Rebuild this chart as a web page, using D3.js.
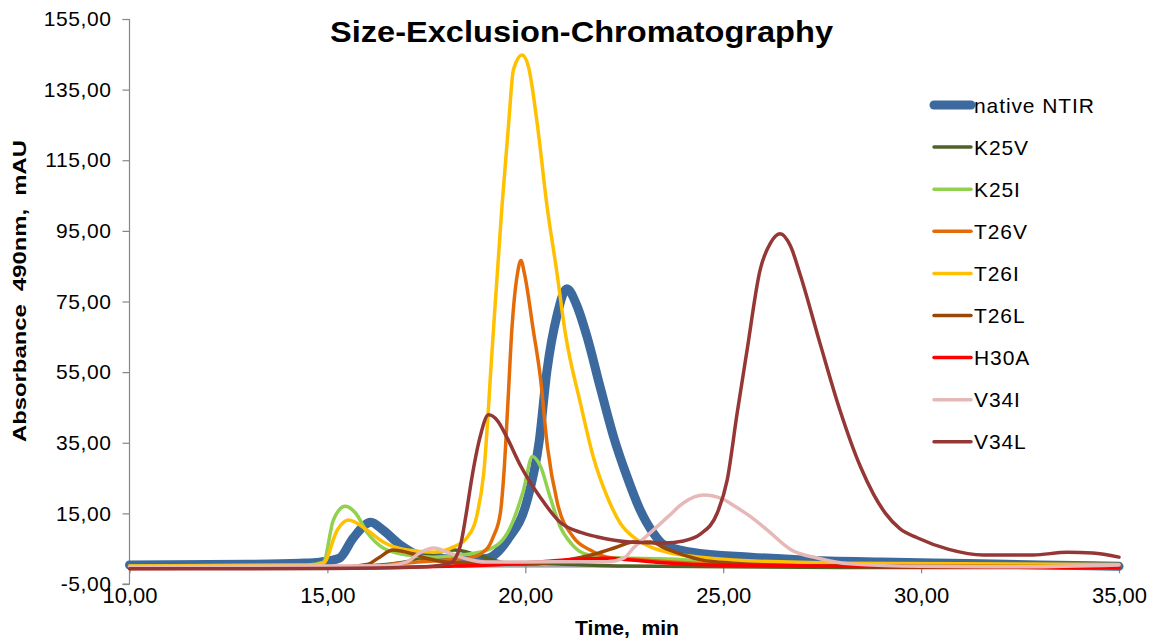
<!DOCTYPE html>
<html><head><meta charset="utf-8">
<script src="https://cdn.jsdelivr.net/npm/d3@7"></script>
<style>
html,body{margin:0;padding:0;background:#fff;}
svg{display:block;font-family:"Liberation Sans",Arial,sans-serif;}
</style></head>
<body><svg id="chart" width="1159" height="638"></svg>
<script>
// ---- data (time in min, absorbance in mAU) ----
const seriesNames = ["native NTIR","K25V","K25I","T26V","T26I","T26L","H30A","V34I","V34L"];
const seriesColors = ["#3C6A9E","#4F6228","#92D050","#E36C09","#FFC000","#984807","#FF0000","#E6B9B8","#953735"];

const nativeNTIR = [[10,0.4],[13,0.6],[14.3,0.9],[14.8,1.2],[15.3,2.3],[15.65,8.0],[16.1,12.5],[16.4,10.3],[16.85,6.0],[17.3,3.2],[17.85,2.3],[18.55,1.8],[19.05,2.3],[19.55,7.5],[20.05,18.8],[20.35,35.3],[20.55,55.6],[20.8,71],[21.05,78.6],[21.3,73.9],[21.56,65],[21.89,50.8],[22.23,36.7],[22.57,25.4],[22.9,16],[23.23,9.5],[23.5,6.1],[24.2,4.0],[25.7,2.6],[27,1.8],[29,1.2],[31.2,0.8],[33,0.4],[35,0.0]];
const K25V = [[10,-0.3],[15,-0.3],[16,0.1],[17,1.3],[17.6,3.4],[18.2,4.6],[18.8,3.2],[19.5,1.0],[21,0.6],[22.5,0.1],[28,-0.3],[35,-0.3]];
const K25I = [[10,0.1],[14.5,0.4],[14.9,1.2],[15.15,13.1],[15.45,17],[15.71,15.1],[16.01,9.5],[16.41,5.2],[17.02,3.2],[17.68,2.6],[18.36,3.2],[19.04,4.6],[19.55,9.5],[19.95,21.4],[20.18,31.1],[20.38,28.4],[20.63,19.5],[20.88,11.3],[21.15,6.6],[21.47,3.7],[22,2.6],[24,1.9],[25,0.6],[35,-0.1]];
const T26V = [[10,-0.1],[16,-0.1],[16.8,0.8],[18.1,1.9],[18.6,2.4],[19.04,5.1],[19.2,8.6],[19.37,15.1],[19.46,26.4],[19.56,46.2],[19.66,67],[19.8,82.8],[19.89,86.6],[19.98,82.8],[20.2,67],[20.38,53.6],[20.56,33.8],[20.81,18],[21.21,8.3],[21.64,4.6],[22.07,2.6],[23,1.8],[25,0.6],[35,-0.1]];
const T26I = [[10,0.1],[14.5,0.3],[14.9,0.9],[15.25,10.3],[15.53,13.1],[16.0,10.3],[16.41,6.9],[17.02,4.6],[17.68,4.0],[18.19,5.5],[18.54,8.3],[18.79,15.1],[18.95,26.4],[19.16,61],[19.41,101.9],[19.58,125.5],[19.7,140.6],[19.92,144.8],[20.08,141.5],[20.3,125.5],[20.55,101.9],[20.8,83.1],[21.01,66.1],[21.39,46.3],[21.72,30.9],[22.07,19.7],[22.4,12.2],[22.83,7.5],[23.16,5.5],[23.59,4.0],[24.42,2.6],[25.25,1.8],[28,0.9],[35,0.5]];
const T26L = [[10,-0.1],[15.5,-0.1],[16.0,0.5],[16.32,2.6],[16.65,4.6],[17.0,4.0],[17.5,2.3],[18.0,1.2],[18.5,0.8],[20,0.6],[21.3,2.3],[21.8,3.6],[22.3,5.4],[22.73,6.9],[23.16,6.9],[23.6,4.8],[24.42,1.9],[25.25,0.9],[27,0.2],[35,-0.1]];
const H30A = [[10,-0.6],[16,-0.4],[18,0],[19.5,0.6],[20.5,1.4],[21.3,2.0],[22,2.3],[22.6,1.9],[23.5,1.0],[25,0.3],[30,-0.1],[35,-0.3]];
const V34I = [[10,-0.1],[16.5,0.2],[17.0,1.2],[17.36,4.0],[17.7,5.2],[18.03,4.0],[18.46,2.3],[19.0,1.2],[21,1.3],[22.07,1.3],[22.5,2.4],[22.73,5.2],[23.16,9.5],[23.6,14],[24.0,18],[24.5,20.2],[25.0,19],[25.25,17.3],[25.7,14],[26.1,10.4],[26.7,4.8],[27.4,2.3],[28.2,0.7],[30,0],[32.6,-0.1],[35,0.4]];
const V34L = [[10,-0.7],[15,-0.6],[17.5,-0.1],[18.1,0.9],[18.35,5.5],[18.51,15.1],[18.64,24.4],[18.85,36.3],[19.07,42.9],[19.3,41.2],[19.5,37.3],[19.87,28.7],[20.38,19.5],[20.88,12.5],[21.4,9.6],[21.8,8.4],[22.64,6.9],[23.5,6.6],[24.0,7.2],[24.42,9.1],[24.85,15.1],[25.1,24.4],[25.35,43.2],[25.6,61],[25.93,83.8],[26.2,91.7],[26.44,94.2],[26.7,90.7],[26.94,82.8],[27.45,63],[27.95,44.2],[28.46,28.4],[28.8,20.4],[29.1,15],[29.47,10.6],[29.9,8.1],[30.7,4.8],[31.57,3.2],[32.83,3.2],[33.69,4.0],[34.34,3.8],[35,2.6]];

const seriesData = [nativeNTIR,K25V,K25I,T26V,T26I,T26L,H30A,V34I,V34L];
const seriesWidths = [9,3.5,3.5,3.5,3.5,3.5,3.5,3.5,3.5];

const xTicks = [10,15,20,25,30,35];
const yTicks = [-5,15,35,55,75,95,115,135,155];
const titleText = "Size-Exclusion-Chromatography";
const xTitle = "Time,  min";
const yTitle = "Absorbance  490nm,  mAU";

// ---- drawing ----
const svg = d3.select("#chart");
const x = d3.scaleLinear().domain([10,35]).range([129.5,1119]);
const y = d3.scaleLinear().domain([-5,155]).range([584,19]);
const fmt = v => d3.format(".2f")(v).replace(".", ",").replace("\u2212", "-");

// vertical axis
const yAxis = svg.append("g").attr("transform","translate(129.5,0)")
  .call(d3.axisLeft(y).tickValues(yTicks).tickSize(7).tickPadding(11).tickFormat(fmt));
yAxis.select(".domain").attr("stroke","#868686").attr("stroke-width",1.2).attr("d","M-7,19.5H0V"+y(-5)+"H-7");
yAxis.selectAll(".tick line").attr("stroke","#868686").attr("stroke-width",1.2);
yAxis.selectAll(".tick text").attr("font-size","21px").attr("fill","#000").attr("font-family","Liberation Sans, Arial, sans-serif").style("letter-spacing","0.6px");

// horizontal axis crosses at 0 (Excel default)
const x0 = y(0);
const xAxis = svg.append("g").attr("transform","translate(0,"+x0+")")
  .call(d3.axisBottom(x).tickValues(xTicks).tickSizeInner(7).tickSizeOuter(0).tickPadding(14).tickFormat(fmt));
xAxis.select(".domain").attr("stroke","#868686").attr("stroke-width",1.2);
xAxis.selectAll(".tick line").attr("stroke","#868686").attr("stroke-width",1.2);
xAxis.selectAll(".tick text").attr("font-size","22px").attr("fill","#000").attr("font-family","Liberation Sans, Arial, sans-serif");

// lines
const line = d3.line().x(d=>x(d[0])).y(d=>y(d[1])).curve(d3.curveMonotoneX);
svg.append("g").selectAll("path").data(seriesData).join("path")
  .attr("d", line)
  .attr("fill","none")
  .attr("stroke",(d,i)=>seriesColors[i])
  .attr("stroke-width",(d,i)=>seriesWidths[i])
  .attr("stroke-linejoin","round")
  .attr("stroke-linecap","round");

// legend
const lg = svg.append("g");
seriesNames.forEach((n,i)=>{
  const ly = 105 + i*42.1;
  lg.append("line").attr("x1",934).attr("x2",971).attr("y1",ly).attr("y2",ly)
    .attr("stroke",seriesColors[i]).attr("stroke-width",seriesWidths[i]).attr("stroke-linecap","round");
  lg.append("text").attr("x",974).attr("y",ly).attr("dy","0.36em")
    .attr("font-size","21px").style("letter-spacing","0.9px").text(n);
});

// titles
svg.append("text").attr("x",581.5).attr("y",42).attr("text-anchor","middle")
  .attr("font-size","30px").attr("font-weight","bold").attr("textLength",503).attr("lengthAdjust","spacingAndGlyphs").text(titleText);
svg.append("text").attr("x",627).attr("y",635).attr("text-anchor","middle")
  .attr("font-size","20px").attr("font-weight","bold").style("white-space","pre")
  .attr("textLength",104).attr("lengthAdjust","spacingAndGlyphs").text(xTitle);
svg.append("text").attr("transform","translate(26,291) rotate(-90)").attr("text-anchor","middle")
  .attr("font-size","19px").attr("font-weight","bold").style("white-space","pre")
  .attr("textLength",302).attr("lengthAdjust","spacingAndGlyphs").text(yTitle);
</script></body></html>
